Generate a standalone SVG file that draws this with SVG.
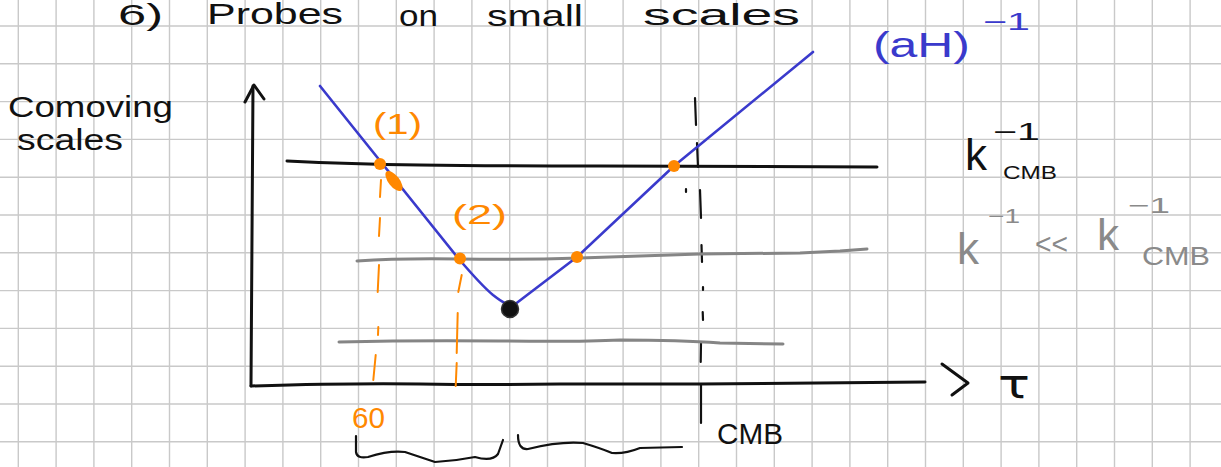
<svg xmlns="http://www.w3.org/2000/svg" width="1221" height="467" viewBox="0 0 1221 467">
<style>
.grid{stroke:#c9c9c9;stroke-width:1.4;fill:none}
.ink{fill:none;stroke:#111;stroke-width:3;stroke-linecap:round;stroke-linejoin:round}
.thin{fill:none;stroke:#111;stroke-width:2.2;stroke-linecap:round;stroke-linejoin:round}
.gray{fill:none;stroke:#858585;stroke-width:3;stroke-linecap:round;stroke-linejoin:round}
.blue{fill:none;stroke:#3a3acc;stroke-width:2.6;stroke-linecap:round;stroke-linejoin:round}
.odash{fill:none;stroke:#ff8800;stroke-width:2;stroke-linecap:round}
.dot{fill:#ff8800}
.t{font-family:"Liberation Sans",Arial,sans-serif}
.tk{fill:#111}
.tg{fill:#8a8a8a}
.tb{fill:#3a3acc}
.to{fill:#ff8800}
</style>
<rect width="1221" height="467" fill="#ffffff"/>
<g id="grid">
<path class="grid" d="M18.3,0V467M56.1,0V467M93.9,0V467M131.7,0V467M169.5,0V467M207.3,0V467M245.1,0V467M282.9,0V467M320.7,0V467M358.5,0V467M396.3,0V467M434.1,0V467M471.9,0V467M509.7,0V467M547.5,0V467M585.3,0V467M623.1,0V467M660.9,0V467M698.7,0V467M736.5,0V467M774.3,0V467M812.1,0V467M849.9,0V467M887.7,0V467M925.5,0V467M963.3,0V467M1001.1,0V467M1038.9,0V467M1076.7,0V467M1114.5,0V467M1152.3,0V467M1190.1,0V467M0,26H1221M0,63.8H1221M0,101.6H1221M0,139.4H1221M0,177.2H1221M0,215H1221M0,252.8H1221M0,290.6H1221M0,328.4H1221M0,366.2H1221M0,404H1221M0,441.8H1221"/>
</g>
<g id="title" class="t tk" font-size="29">
<text x="118" y="25" textLength="45" lengthAdjust="spacingAndGlyphs">6)</text>
<text x="207" y="24" textLength="136" lengthAdjust="spacingAndGlyphs">Probes</text>
<text x="399" y="26" textLength="39" lengthAdjust="spacingAndGlyphs">on</text>
<text x="487" y="26" textLength="96" lengthAdjust="spacingAndGlyphs">small</text>
<text x="643" y="25" textLength="157" lengthAdjust="spacingAndGlyphs">scales</text>
</g>
<g id="yaxis-label" class="t tk" font-size="30">
<text x="8" y="117" textLength="165" lengthAdjust="spacingAndGlyphs">Comoving</text>
<text x="17" y="150" textLength="106" lengthAdjust="spacingAndGlyphs">scales</text>
</g>
<g id="axes">
<path class="ink" d="M253,86 Q252,240 251,386"/>
<path class="ink" d="M245,102 L254,85 L264,99"/>
<path class="ink" d="M251,386 Q350,383 420,384 T560,384 L700,384 L925,382"/>
<path class="ink" d="M942,364 L968,383 L952,395"/>
<text x="998" y="398" font-family="DejaVu Sans, sans-serif" font-size="40" fill="#111" textLength="32" lengthAdjust="spacingAndGlyphs">τ</text>
</g>
<g id="cmb-line">
<path class="thin" d="M695,98 L696,125 M697,143 L698,167 M700,190 L701,218 M701.5,245 L702,262 M703,287 L703,290 M702.7,312 L703,320 M701,342 L700.7,362 M701,385 L701,423 M686,189 L686,192"/>
<text class="t tk" x="717" y="444" font-size="30" textLength="66" lengthAdjust="spacingAndGlyphs">CMB</text>
</g>
<g id="scale-lines">
<path id="k-cmb-line" class="ink" stroke-width="2.6" d="M287,161 Q350,164 420,165 T600,166 L877,167"/>
<path id="k-line" class="gray" d="M357,261 Q400,258 460,259 T580,258 L700,254 L800,253 L840,251 L867,249"/>
<path id="low-line" class="gray" stroke-width="2.6" d="M339,342 Q420,340 500,341 T620,340 Q680,340 720,343 L783,344"/>
</g>
<g id="aH-curve">
<path class="blue" d="M320,86 L458,258 C470,272 482,286 493,295 C502,302 508,306 514,305 L577,257 L674,166 L813,52"/>
<text class="t tb" x="873" y="57" font-size="35" textLength="97" lengthAdjust="spacingAndGlyphs">(aH)</text>
<text class="t tb" x="983" y="30" font-size="24" textLength="47" lengthAdjust="spacingAndGlyphs">−1</text>
</g>
<g id="orange-dashes">
<path class="odash" d="M381,180 L380,197 M380,218 L379,236 M379,265 L377.7,292 M378.3,327 L378,335 M375.7,355 L373.3,380"/>
<path class="odash" d="M461.7,275 L458.3,292 M457.7,313 L456.7,353 M456.7,363 L455.7,386"/>
</g>
<g id="points">
<circle class="dot" cx="380" cy="164" r="6"/>
<ellipse class="dot" cx="394" cy="181" rx="12" ry="5.5" transform="rotate(52 394 181)"/>
<circle class="dot" cx="460" cy="258.5" r="6"/>
<circle class="dot" cx="577" cy="257" r="6"/>
<circle class="dot" cx="674" cy="166" r="6"/>
<circle cx="510" cy="309" r="8.5" fill="#111" stroke="#333" stroke-width="1.5"/>
</g>
<g id="orange-labels" class="t to">
<text x="373" y="134" font-size="30" textLength="49" lengthAdjust="spacingAndGlyphs">(1)</text>
<text x="452" y="224" font-size="28" textLength="55" lengthAdjust="spacingAndGlyphs">(2)</text>
<text x="352" y="428" font-size="29" textLength="33" lengthAdjust="spacingAndGlyphs">60</text>
</g>
<g id="braces">
<path class="thin" d="M356,436 L356,452 Q357,459 368,457 Q390,450 405,452 Q420,457 435,462 Q455,461 475,457 Q492,462 498,454 L503,440"/>
<path class="thin" d="M518,435 Q518,450 528,449 Q560,441 583,443 Q600,448 612,453 Q625,454 640,448 L682,447"/>
</g>
<g id="label-kcmb" class="t tk">
<text x="965" y="170" font-size="44">k</text>
<text x="993" y="140" font-size="24" textLength="47" lengthAdjust="spacingAndGlyphs">−1</text>
<text x="1003" y="179" font-size="19" textLength="54" lengthAdjust="spacingAndGlyphs">CMB</text>
</g>
<g id="label-k-ll" class="t tg">
<text x="957" y="264" font-size="44">k</text>
<text x="988" y="223" font-size="20" textLength="32" lengthAdjust="spacingAndGlyphs">−1</text>
<text x="1035" y="254" font-size="30" textLength="33" lengthAdjust="spacingAndGlyphs">&lt;&lt;</text>
<text x="1097" y="250" font-size="44">k</text>
<text x="1128" y="213" font-size="22" textLength="42" lengthAdjust="spacingAndGlyphs">−1</text>
<text x="1142" y="265" font-size="25" textLength="68" lengthAdjust="spacingAndGlyphs">CMB</text>
</g>
</svg>
